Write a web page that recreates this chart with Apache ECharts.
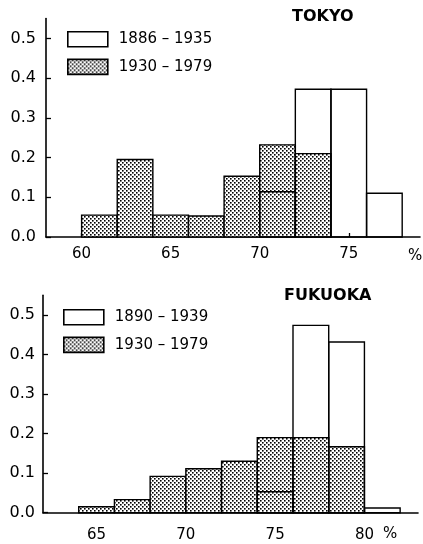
<!DOCTYPE html>
<html>
<head>
<meta charset="utf-8">
<script src="https://cdn.jsdelivr.net/npm/echarts@6/dist/echarts.min.js"></script>
<style>
  html, body { margin: 0; padding: 0; background: #fff; }
  #chart { width: 423px; height: 544px; }
</style>
</head>
<body>
<div id="chart"></div>
<script>
// bins are 2 points wide, left edges listed
var tokyoEdges = [60, 62, 64, 66, 68, 70, 72, 74, 76];
var tokyoOld = [0, 0, 0, 0, 0, 0.114, 0.372, 0.372, 0.11];       // 1886-1935
var tokyoNew = [0.055, 0.195, 0.055, 0.053, 0.153, 0.232, 0.21, 0, 0]; // 1930-1979

var fukuokaEdges = [64, 66, 68, 70, 72, 74, 76, 78, 80];
var fukuokaOld = [0, 0, 0, 0, 0, 0.053, 0.474, 0.432, 0.012];      // 1890-1939
var fukuokaNew = [0.015, 0.033, 0.092, 0.111, 0.13, 0.19, 0.19, 0.167, 0]; // 1930-1979

var yTicks = [0, 0.1, 0.2, 0.3, 0.4, 0.5];
var tokyoXTicks = [60, 65, 70, 75];
var fukuokaXTicks = [65, 70, 75, 80];

// stipple fill
function makeDots() {
  var c = document.createElement("canvas");
  c.width = 4;
  c.height = 4;
  var ctx = c.getContext("2d");
  ctx.fillStyle = "#fff";
  ctx.fillRect(0, 0, 4, 4);
  ctx.fillStyle = "#000";
  ctx.fillRect(0, 0, 1.6, 1.6);
  ctx.fillRect(2, 2, 1.6, 1.6);
  return c;
}
var dots = { image: makeDots(), repeat: "repeat" };

function toBins(edges, vals) {
  var out = [];
  for (var i = 0; i < edges.length; i++) {
    if (vals[i] > 0) out.push([edges[i], edges[i] + 2, vals[i]]);
  }
  return out;
}

function renderBin(params, api) {
  var p0 = api.coord([api.value(0), api.value(2)]);
  var p1 = api.coord([api.value(1), 0]);
  return {
    type: "rect",
    shape: { x: p0[0], y: p0[1], width: p1[0] - p0[0], height: p1[1] - p0[1] },
    style: api.style()
  };
}

var font = "DejaVu Sans";

function xAxis(idx, min, max, ticks, margin) {
  return {
    type: "value", gridIndex: idx, min: min, max: max,
    splitLine: { show: false },
    axisLine: { lineStyle: { color: "#000", width: 1.6 } },
    axisTick: { inside: true, length: 4, customValues: ticks, lineStyle: { color: "#000", width: 1.3 } },
    axisLabel: { customValues: ticks, margin: margin, color: "#000", fontSize: 15, fontFamily: font }
  };
}
function yAxis(idx, margin) {
  return {
    type: "value", gridIndex: idx, min: 0, max: 0.55,
    splitLine: { show: false },
    axisLine: { show: true, lineStyle: { color: "#000", width: 1.6 } },
    axisTick: { show: true, inside: true, length: 5, customValues: yTicks, lineStyle: { color: "#000", width: 1.3 } },
    axisLabel: {
      customValues: yTicks, margin: margin, color: "#000", fontSize: 16, fontFamily: font,
      formatter: function (v) { return v.toFixed(1); }
    }
  };
}
function binSeries(name, idx, data, filled) {
  return {
    name: name, type: "custom", xAxisIndex: idx, yAxisIndex: idx,
    renderItem: renderBin,
    encode: { x: [0, 1], y: 2 },
    itemStyle: { color: filled ? dots : "transparent", borderColor: "#000", borderWidth: 1.4 },
    data: data
  };
}
function legend(top, left, names) {
  return {
    top: top, left: left, orient: "vertical", itemGap: 11, padding: 0,
    itemWidth: 40, itemHeight: 15, icon: "rect",
    textStyle: { fontSize: 15, fontFamily: font, color: "#000", padding: [0, 0, 0, 6] },
    data: [
      { name: names[0], itemStyle: { color: "#fff", borderColor: "#000", borderWidth: 1.6 } },
      { name: names[1], itemStyle: { color: dots, borderColor: "#000", borderWidth: 1.6 } }
    ],
    selectedMode: false
  };
}

var chart = echarts.init(document.getElementById("chart"));
chart.setOption({
  animation: false,
  title: [
    { text: "TOKYO", left: 287, top: 4, textStyle: { fontSize: 16, fontWeight: "bold", fontFamily: font, color: "#000" } },
    { text: "FUKUOKA", left: 279, top: 283, textStyle: { fontSize: 16, fontWeight: "bold", fontFamily: font, color: "#000" } }
  ],
  legend: [
    legend(31, 67, ["1886 – 1935", "1930 – 1979 "]),
    legend(309, 63, ["1890 – 1939", "1930 – 1979"])
  ],
  grid: [
    { left: 46, top: 18.6, width: 374, height: 218.4 },
    { left: 43, top: 295.3, width: 375, height: 217.4 }
  ],
  xAxis: [xAxis(0, 58, 79, tokyoXTicks, 10), xAxis(1, 62, 83, fukuokaXTicks, 15)],
  yAxis: [yAxis(0, 10), yAxis(1, 8)],
  graphic: [
    { type: "text", left: 408, top: 249, style: { text: "%", fontSize: 15, fontFamily: font, fill: "#000" } },
    { type: "text", left: 383, top: 527, style: { text: "%", fontSize: 15, fontFamily: font, fill: "#000" } }
  ],
  series: [
    binSeries("1930 – 1979 ", 0, toBins(tokyoEdges, tokyoNew), true),
    binSeries("1886 – 1935", 0, toBins(tokyoEdges, tokyoOld), false),
    binSeries("1930 – 1979", 1, toBins(fukuokaEdges, fukuokaNew), true),
    binSeries("1890 – 1939", 1, toBins(fukuokaEdges, fukuokaOld), false)
  ]
});
</script>
</body>
</html>
